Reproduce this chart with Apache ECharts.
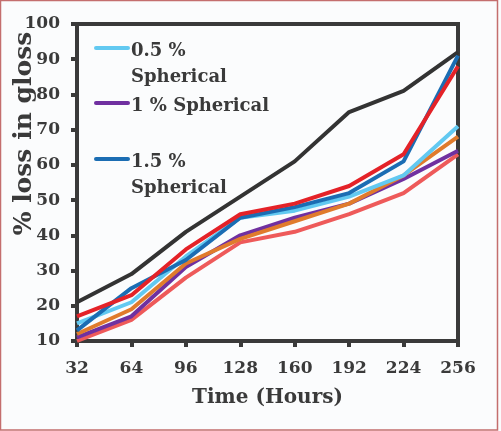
<!DOCTYPE html>
<html>
<head>
<meta charset="utf-8">
<script src="https://cdn.jsdelivr.net/npm/echarts@6/dist/echarts.min.js"></script>
<style>
html,body{margin:0;padding:0;background:#fbfcfd;}
#c{width:501px;height:431px;}
</style>
</head>
<body>
<div id="c"></div>
<script>
const hours = ['32', '64', '96', '128', '160', '192', '224', '256'];
const yTicks = [10, 20, 30, 40, 50, 60, 70, 80, 90, 100];
const black = [21, 29, 41, 51, 61, 75, 81, 92];
const salmon = [10, 16, 28, 38, 41, 46, 52, 63];
const purple1 = [11, 17, 31, 40, 45, 49, 56, 64];
const orange = [12, 19, 32, 39, 44, 49, 57, 68];
const lightBlue05 = [15, 21, 34, 45, 47, 51, 57, 71];
const darkBlue15 = [13, 25, 33, 45, 48, 52, 61, 91];
const red = [17, 23, 36, 46, 49, 54, 63, 88];
const legendNames = ['0.5 %\nSpherical', '1 % Spherical', '1.5 %\nSpherical'];

const ink = '#3a3a3a';
const font = 'DejaVu Serif';

function line(name, data, color) {
  return {
    name: name, type: 'line', data: data, symbol: 'none',
    lineStyle: { color: color, width: 4 }, itemStyle: { color: color }
  };
}

const chart = echarts.init(document.getElementById('c'), null, { renderer: 'canvas' });

const legendRows = [
  { color: '#62c9f1', name: legendNames[0], y: 48 },
  { color: '#7030a0', name: legendNames[1], y: 103 },
  { color: '#1b6db3', name: legendNames[2], y: 159 }
];
const graphics = [
  { type: 'rect', shape: { x: 0.5, y: 0.5, width: 497, height: 429.5 },
    style: { fill: 'none', stroke: '#c46e6e', lineWidth: 1.5 }, silent: true }
];
legendRows.forEach(r => {
  graphics.push({ type: 'line', shape: { x1: 96, y1: r.y, x2: 128, y2: r.y },
    style: { stroke: r.color, lineWidth: 4, lineCap: 'round' }, z: 100 });
  graphics.push({ type: 'text', x: 131, y: r.y - 10,
    style: { text: r.name, font: 'bold 18px "DejaVu Serif"', fill: ink,
      lineHeight: 26, textVerticalAlign: 'top' }, z: 100 });
});

chart.setOption({
  backgroundColor: '#fbfcfd',
  animation: false,
  grid: { left: 77, right: 43, top: 24, bottom: 90, show: true,
    containLabel: false, outerBoundsMode: 'none',
    borderColor: ink, borderWidth: 4, backgroundColor: 'transparent' },
  xAxis: {
    type: 'category', data: hours, boundaryGap: false,
    name: 'Time (Hours)', nameLocation: 'middle', nameGap: 47, nameMoveOverlap: false,
    nameTextStyle: { fontFamily: font, fontWeight: 'bold', fontSize: 20, color: ink },
    axisLine: { lineStyle: { color: ink, width: 4 } },
    axisTick: { show: true, length: 6, lineStyle: { color: ink, width: 4 } },
    axisLabel: { fontFamily: font, fontWeight: 'bold', fontSize: 17, color: ink, margin: 19 },
    splitLine: { show: false }
  },
  yAxis: {
    type: 'value', min: yTicks[0], max: yTicks[yTicks.length - 1], interval: 10,
    name: '% loss in gloss', nameLocation: 'middle', nameGap: 40, nameRotate: 90,
    nameMoveOverlap: false,
    nameTextStyle: { fontFamily: font, fontWeight: 'bold', fontSize: 25, color: ink,
      padding: [0, 0, 0, 98] },
    axisLine: { show: true, lineStyle: { color: ink, width: 4 } },
    axisTick: { show: true, length: 6, lineStyle: { color: ink, width: 4 } },
    axisLabel: { fontFamily: font, fontWeight: 'bold', fontSize: 17, color: ink, margin: 17 },
    splitLine: { show: false }
  },
  series: [
    line('Control', black, '#333333'),
    line('Series S', salmon, '#ee5a5a'),
    line(legendNames[1], purple1, '#7030a0'),
    line('Series O', orange, '#e07b2c'),
    line(legendNames[0], lightBlue05, '#62c9f1'),
    line(legendNames[2], darkBlue15, '#1b6db3'),
    line('Series R', red, '#e42228')
  ],
  graphic: graphics
});
</script>
</body>
</html>
